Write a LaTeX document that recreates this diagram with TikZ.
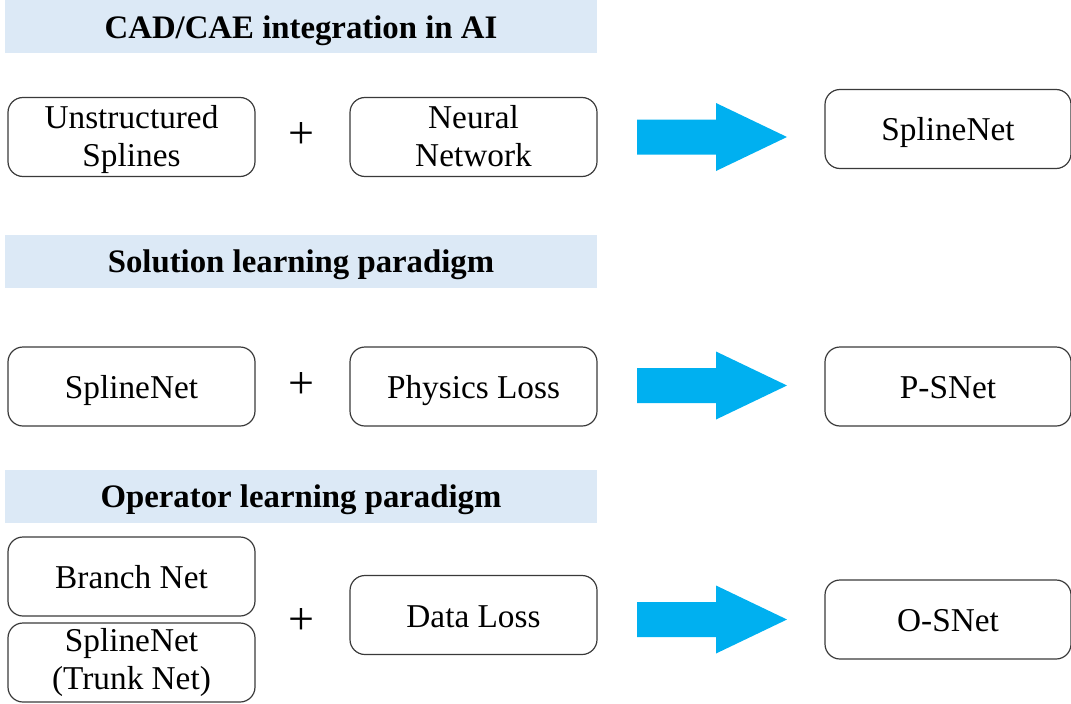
\documentclass[tikz,border=0pt]{standalone}
\usepackage{fontspec}
\setmainfont{Liberation Serif}
\usepackage{xcolor}
\usepackage{tikz}
\usetikzlibrary{positioning, calc}

\definecolor{bandblue}{HTML}{DCE9F6}
\definecolor{arrowblue}{HTML}{00B0F0}
\definecolor{boxgray}{HTML}{3A3A3A}

\newcommand{\boxfont}{\fontsize{33.3}{38.4}\selectfont}
\newcommand{\bandfont}{\fontsize{32.8}{39}\selectfont\bfseries}
\newcommand{\boxstrut}{\rule[-7pt]{0pt}{38pt}}
\newcommand{\twostrut}{\rule[-7pt]{0pt}{35pt}}

\begin{document}
\begin{tikzpicture}[x=1pt,y=-1pt,
  band/.style={fill=bandblue, minimum width=592pt, minimum height=53pt, inner sep=0pt, font=\bandfont,
    execute at begin node=\boxstrut},
  cell/.style={draw=boxgray, line width=1.2pt, rounded corners=15pt, minimum width=247pt, minimum height=79pt, inner sep=0pt,
    text width=240pt, align=flush center, font=\boxfont},
  box/.style={cell, execute at begin node=\boxstrut},
  twobox/.style={cell, execute at begin node=\twostrut, execute at end node=\twostrut},
  plus/.style={font=\fontsize{46}{50}\selectfont, inner sep=0pt}]
  \useasboundingbox (0,0) rectangle (1071,704);

  % Section headers
  \node[band] (cadband) at (301,26.5) {CAD/CAE integration in AI};
  \node[band] (solband) at (301,261) {Solution learning paradigm};
  \node[band] (opband) at (301,496) {Operator learning paradigm};

  % CAD/CAE row
  \node[twobox] (unspl) at (131.5,137) {Unstructured\\Splines};
  \node[plus] (plusa) at (301.5,136) {+};
  \node[twobox] (neunet) at (473.5,137) {Neural\\Network};
  \node[box, minimum width=246pt] (splnet) at (948,129) {SplineNet};

  % Solution learning row
  \node[box] (splin) at (131.5,386.5) {SplineNet};
  \node[plus] (plusb) at (301.5,386) {+};
  \node[box] (phyloss) at (473.5,386.5) {Physics Loss};
  \node[box, minimum width=246pt] (psnet) at (948,386.5) {P-SNet};

  % Operator learning row
  \node[box] (branch) at (131.5,576.5) {Branch Net};
  \node[cell] (trunk) at (131.5,662.5) {SplineNet\\(Trunk Net)};
  \node[plus] (plusc) at (301.5,621) {+};
  \node[box] (dataloss) at (473.5,615) {Data Loss};
  \node[box, minimum width=246pt] (osnet) at (948,619.5) {O-SNet};

  % Block arrows
  \coordinate (arra) at (637,137);
  \coordinate (arrb) at (637,385.5);
  \coordinate (arrc) at (637,619.5);
  \fill[arrowblue] (arra) ++(0,-17.5) -- ++(79,0) -- ++(0,-16.5) -- ++(71,34) -- ++(-71,34) -- ++(0,-16.5) -- ++(-79,0) -- cycle;
  \fill[arrowblue] (arrb) ++(0,-17.5) -- ++(79,0) -- ++(0,-16.5) -- ++(71,34) -- ++(-71,34) -- ++(0,-16.5) -- ++(-79,0) -- cycle;
  \fill[arrowblue] (arrc) ++(0,-17.5) -- ++(79,0) -- ++(0,-16.5) -- ++(71,34) -- ++(-71,34) -- ++(0,-16.5) -- ++(-79,0) -- cycle;
\end{tikzpicture}
\end{document}
